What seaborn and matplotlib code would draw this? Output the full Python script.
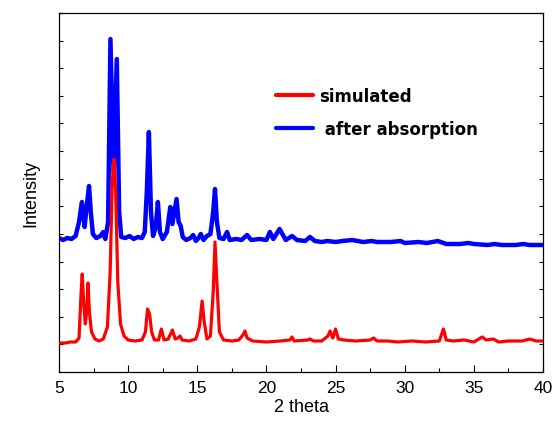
import numpy as np
import pandas as pd
import seaborn as sns
import matplotlib.pyplot as plt
from matplotlib.ticker import MultipleLocator, FixedLocator

# simulated pattern (2 theta, intensity in a.u.)
sim_2theta = [5.0, 5.5, 5.8, 6.2, 6.45, 6.6, 6.68, 6.78, 6.9, 7.0, 7.1, 7.2, 7.35, 7.6,
              7.9, 8.2, 8.5, 8.7, 8.85, 8.98, 9.1, 9.25, 9.45, 9.7, 10.0, 10.5, 11.0,
              11.25, 11.4, 11.55, 11.7, 11.9, 12.2, 12.4, 12.6, 12.9, 13.2, 13.4, 13.6,
              13.75, 13.9, 14.4, 14.9, 15.15, 15.35, 15.5, 15.7, 15.95, 16.15, 16.28,
              16.42, 16.6, 16.9, 17.5, 18.0, 18.3, 18.45, 18.6, 19.0, 20.0, 21.0, 21.7,
              21.85, 22.0, 23.0, 23.15, 23.4, 24.0, 24.45, 24.6, 24.8, 25.0, 25.2, 25.6,
              26.5, 27.5, 27.75, 28.0, 28.75, 29.5, 30.5, 31.5, 32.5, 32.8, 33.0, 33.5,
              34.3, 35.0, 35.6, 35.9, 36.4, 36.8, 37.5, 38.5, 39.05, 39.5, 40.0]
sim_int = [29, 29, 30, 30, 34, 80, 98, 70, 48, 60, 89, 60, 40, 33,
           31, 33, 45, 100, 190, 213, 180, 90, 48, 36, 32, 31, 32,
           40, 63, 58, 40, 32, 32, 43, 32, 33, 42, 33, 34,
           36, 32, 31, 33, 45, 71, 50, 33, 36, 80, 130,
           90, 40, 32, 31, 32, 37, 41, 34, 31, 30, 31, 32,
           35, 31, 32, 33, 31, 31, 36, 41, 34, 43, 33, 32,
           31, 32, 34, 31, 31, 30, 31, 30, 31, 43, 32, 31,
           32, 30, 35, 32, 33, 30, 31, 31, 33, 31, 31]

# pattern after absorption (offset)
abs_2theta = [5.0, 5.3, 5.6, 5.9, 6.2, 6.45, 6.6, 6.66, 6.75, 6.85, 7.0, 7.17, 7.3, 7.45,
              7.7, 8.0, 8.2, 8.35, 8.55, 8.72, 8.95, 9.18, 9.35, 9.5, 9.8, 10.1, 10.4,
              10.7, 11.0, 11.2, 11.35, 11.5, 11.65, 11.8, 12.0, 12.15, 12.3, 12.5, 12.8,
              13.05, 13.2, 13.5, 13.65, 13.8, 13.95, 14.2, 14.5, 14.7, 14.9, 15.1, 15.25,
              15.45, 15.7, 15.95, 16.15, 16.28, 16.42, 16.6, 16.9, 17.15, 17.35, 17.8,
              18.2, 18.6, 18.9, 19.5, 20.0, 20.25, 20.5, 20.95, 21.15, 21.4, 21.85, 22.2,
              22.8, 23.15, 23.5, 24.0, 24.4, 25.0, 25.5, 26.2, 27.0, 27.6, 28.0, 29.0,
              29.7, 30.0, 31.0, 31.6, 32.4, 33.0, 34.0, 34.6, 35.0, 36.0, 36.5, 37.0,
              38.0, 38.6, 39.0, 40.0]
abs_int = [134, 132, 134, 133, 136, 150, 165, 170, 160, 145, 165, 186, 160, 138,
           134, 136, 140, 133, 150, 333, 200, 313, 160, 135, 134, 136, 133,
           135, 134, 140, 180, 240, 160, 136, 145, 170, 140, 133, 140,
           165, 148, 173, 150, 146, 135, 132, 134, 137, 131, 134, 138,
           132, 136, 138, 160, 183, 150, 134, 133, 140, 132, 133,
           132, 137, 132, 133, 132, 140, 133, 143, 138, 132, 136, 132,
           131, 135, 131, 130, 131, 130, 131, 132, 130, 131, 130, 130,
           131, 129, 130, 129, 131, 128, 128, 129, 128, 127, 128, 127,
           127, 128, 127, 127]

labels = ["simulated", " after absorption"]

sns.set_theme(style="ticks")
plt.rcParams["font.family"] = ["Liberation Sans", "DejaVu Sans"]
plt.rcParams["text.color"] = "black"
plt.rcParams["axes.labelcolor"] = "black"

fig = plt.figure(figsize=(5.57, 4.27), dpi=100)
ax = fig.add_axes([59 / 557, 1 - 373 / 427, 484 / 557, 359 / 427])

df_abs = pd.DataFrame({"x": abs_2theta, "y": abs_int})
df_sim = pd.DataFrame({"x": sim_2theta, "y": sim_int})
sns.lineplot(data=df_abs, x="x", y="y", ax=ax, color="#0000ff", linewidth=3.2,
             estimator=None, sort=False, label=labels[1], zorder=2)
sns.lineplot(data=df_sim, x="x", y="y", ax=ax, color="#ff0000", linewidth=2.3,
             estimator=None, sort=False, label=labels[0], zorder=3)

ax.set_xlim(5, 40)
ax.set_ylim(0, 359)
ax.xaxis.set_major_locator(MultipleLocator(5))
ax.xaxis.set_minor_locator(MultipleLocator(2.5))
ax.yaxis.set_major_locator(FixedLocator(np.linspace(0, 359, 14)))
ax.tick_params(axis="both", which="both", direction="in", colors="black",
               labelcolor="black")
ax.tick_params(axis="x", which="major", length=5, width=0.8, labelsize=12.5, pad=6)
ax.tick_params(axis="x", which="minor", length=3, width=0.8)
ax.tick_params(axis="y", which="major", length=3, width=0.8, labelleft=False,
               right=True)
for s in ax.spines.values():
    s.set_visible(True)
    s.set_color("black")
    s.set_linewidth(0.9)

ax.set_xlabel("2 theta", fontsize=13, labelpad=2)
ax.set_ylabel("Intensity", fontsize=13, labelpad=14)

handles, labs = ax.get_legend_handles_labels()
order = [1, 0]
leg = ax.legend([handles[i] for i in order], [labs[i] for i in order],
                loc="upper left", bbox_to_anchor=(0.418, 0.836), frameon=False,
                handlelength=2.2, handletextpad=0.35, labelspacing=0.88,
                prop={"family": "DejaVu Sans", "weight": "bold", "size": 12})
for line in leg.get_lines():
    line.set_linewidth(3)
for t in leg.get_texts():
    t.set_color("black")

fig.savefig("out.png", dpi=100)
